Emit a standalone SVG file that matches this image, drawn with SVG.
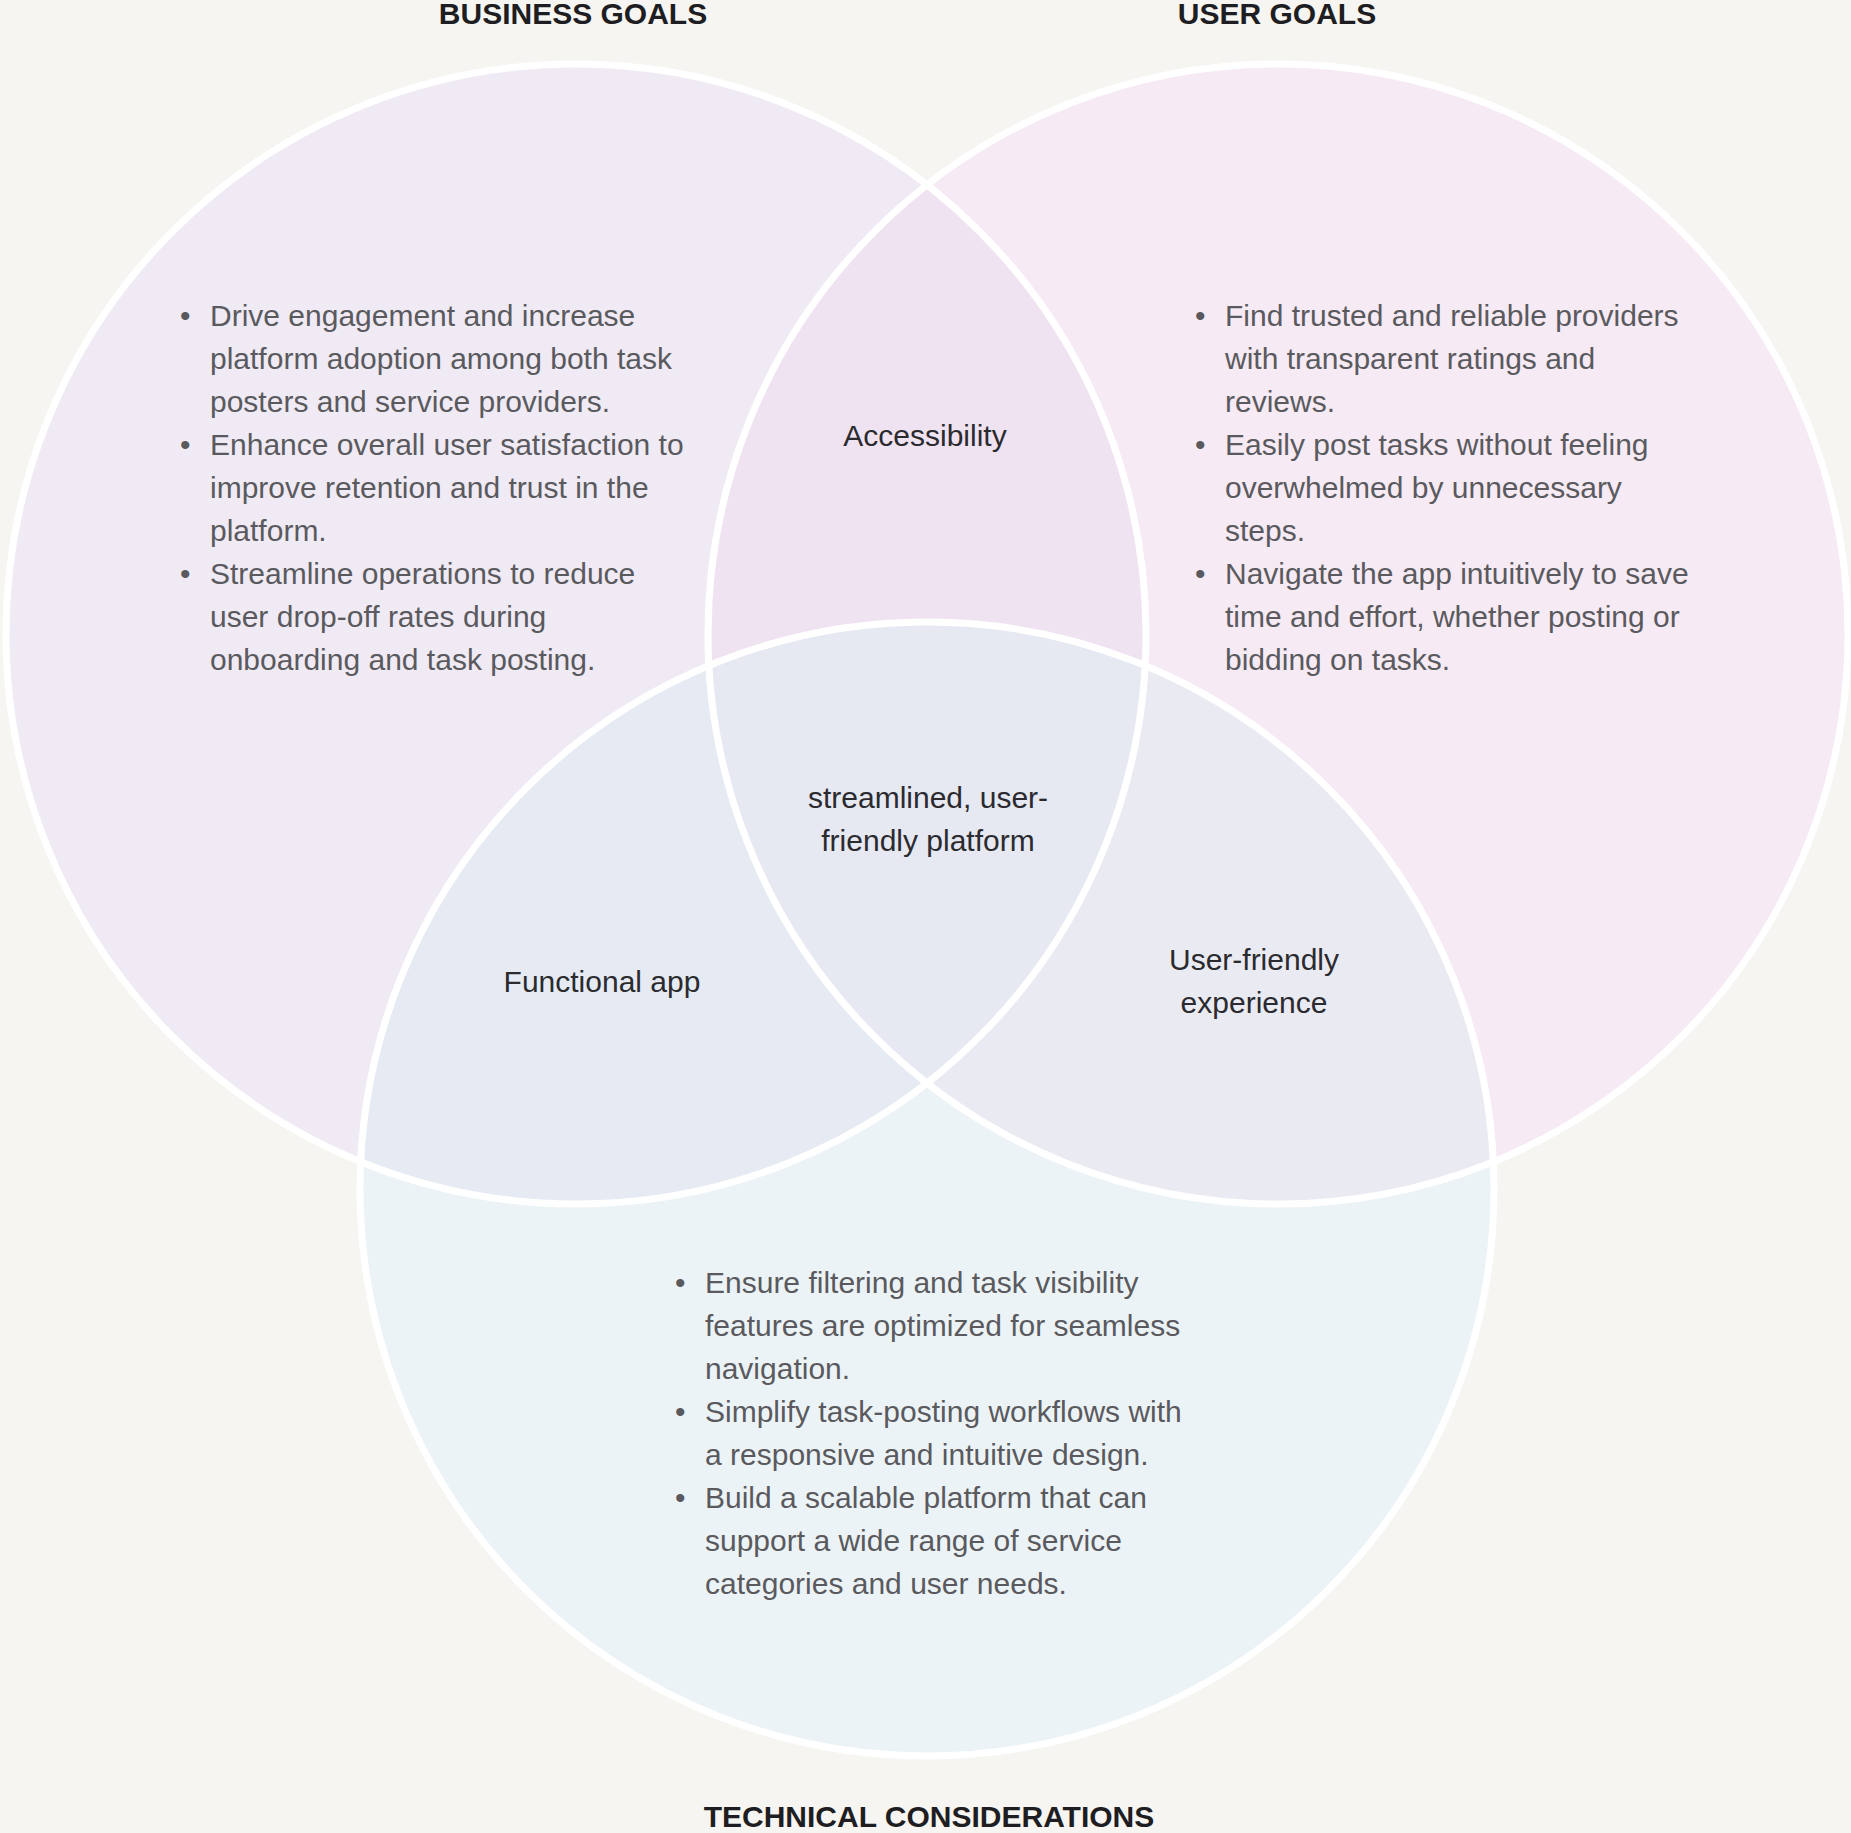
<svg xmlns="http://www.w3.org/2000/svg" width="1851" height="1833" viewBox="0 0 1851 1833">
<style>
.t{font-family:"Liberation Sans",Arial,sans-serif;font-size:30px;fill:#5a5a5e}
.l{font-family:"Liberation Sans",Arial,sans-serif;font-size:30px;fill:#2b2b2f;text-anchor:middle}
.h{font-family:"Liberation Sans",Arial,sans-serif;font-size:30px;font-weight:bold;fill:#1e1e22;text-anchor:middle}
.s{fill:none;stroke:#ffffff;stroke-width:7}
</style>
<defs>
<clipPath id="cA"><circle cx="576" cy="634" r="570"/></clipPath>
<clipPath id="cB"><circle cx="1278" cy="634" r="570"/></clipPath>
<clipPath id="cC"><circle cx="927" cy="1189" r="567"/></clipPath>
</defs>
<rect width="1851" height="1833" fill="#f6f5f2"/>
<g id="circles">
<circle cx="576" cy="634" r="570" fill="#f0eaf4"/>
<circle cx="1278" cy="634" r="570" fill="#f6eaf4"/>
<circle cx="927" cy="1189" r="567" fill="#ecf3f6"/>
<g clip-path="url(#cA)"><circle cx="1278" cy="634" r="570" fill="#f0e3f1"/><circle cx="927" cy="1189" r="567" fill="#e6ebf3"/></g>
<g clip-path="url(#cB)"><circle cx="927" cy="1189" r="567" fill="#eaeaf3"/></g>
<g clip-path="url(#cA)"><g clip-path="url(#cB)"><circle cx="927" cy="1189" r="567" fill="#e6e8f2"/></g></g>
<circle class="s" cx="576" cy="634" r="570"/>
<circle class="s" cx="1278" cy="634" r="570"/>
<circle class="s" cx="927" cy="1189" r="567"/>
</g>
<g id="titles">
<text class="h" x="573" y="24">BUSINESS GOALS</text>
<text class="h" x="1277" y="24">USER GOALS</text>
<text class="h" x="929" y="1827">TECHNICAL CONSIDERATIONS</text>
</g>
<g id="business" class="t">
<text x="180" y="326">•</text><text x="210" y="326">Drive engagement and increase</text>
<text x="210" y="369">platform adoption among both task</text>
<text x="210" y="412">posters and service providers.</text>
<text x="180" y="455">•</text><text x="210" y="455">Enhance overall user satisfaction to</text>
<text x="210" y="498">improve retention and trust in the</text>
<text x="210" y="541">platform.</text>
<text x="180" y="584">•</text><text x="210" y="584">Streamline operations to reduce</text>
<text x="210" y="627">user drop-off rates during</text>
<text x="210" y="670">onboarding and task posting.</text>
</g>
<g id="user" class="t">
<text x="1195" y="326">•</text><text x="1225" y="326">Find trusted and reliable providers</text>
<text x="1225" y="369">with transparent ratings and</text>
<text x="1225" y="412">reviews.</text>
<text x="1195" y="455">•</text><text x="1225" y="455">Easily post tasks without feeling</text>
<text x="1225" y="498">overwhelmed by unnecessary</text>
<text x="1225" y="541">steps.</text>
<text x="1195" y="584">•</text><text x="1225" y="584">Navigate the app intuitively to save</text>
<text x="1225" y="627">time and effort, whether posting or</text>
<text x="1225" y="670">bidding on tasks.</text>
</g>
<g id="technical" class="t">
<text x="675" y="1293">•</text><text x="705" y="1293">Ensure filtering and task visibility</text>
<text x="705" y="1336">features are optimized for seamless</text>
<text x="705" y="1379">navigation.</text>
<text x="675" y="1422">•</text><text x="705" y="1422">Simplify task-posting workflows with</text>
<text x="705" y="1465">a responsive and intuitive design.</text>
<text x="675" y="1508">•</text><text x="705" y="1508">Build a scalable platform that can</text>
<text x="705" y="1551">support a wide range of service</text>
<text x="705" y="1594">categories and user needs.</text>
</g>
<g id="overlaps">
<text class="l" x="925" y="446">Accessibility</text>
<text class="l" x="928" y="808">streamlined, user-</text>
<text class="l" x="928" y="851">friendly platform</text>
<text class="l" x="602" y="992">Functional app</text>
<text class="l" x="1254" y="970">User-friendly</text>
<text class="l" x="1254" y="1013">experience</text>
</g>
</svg>
